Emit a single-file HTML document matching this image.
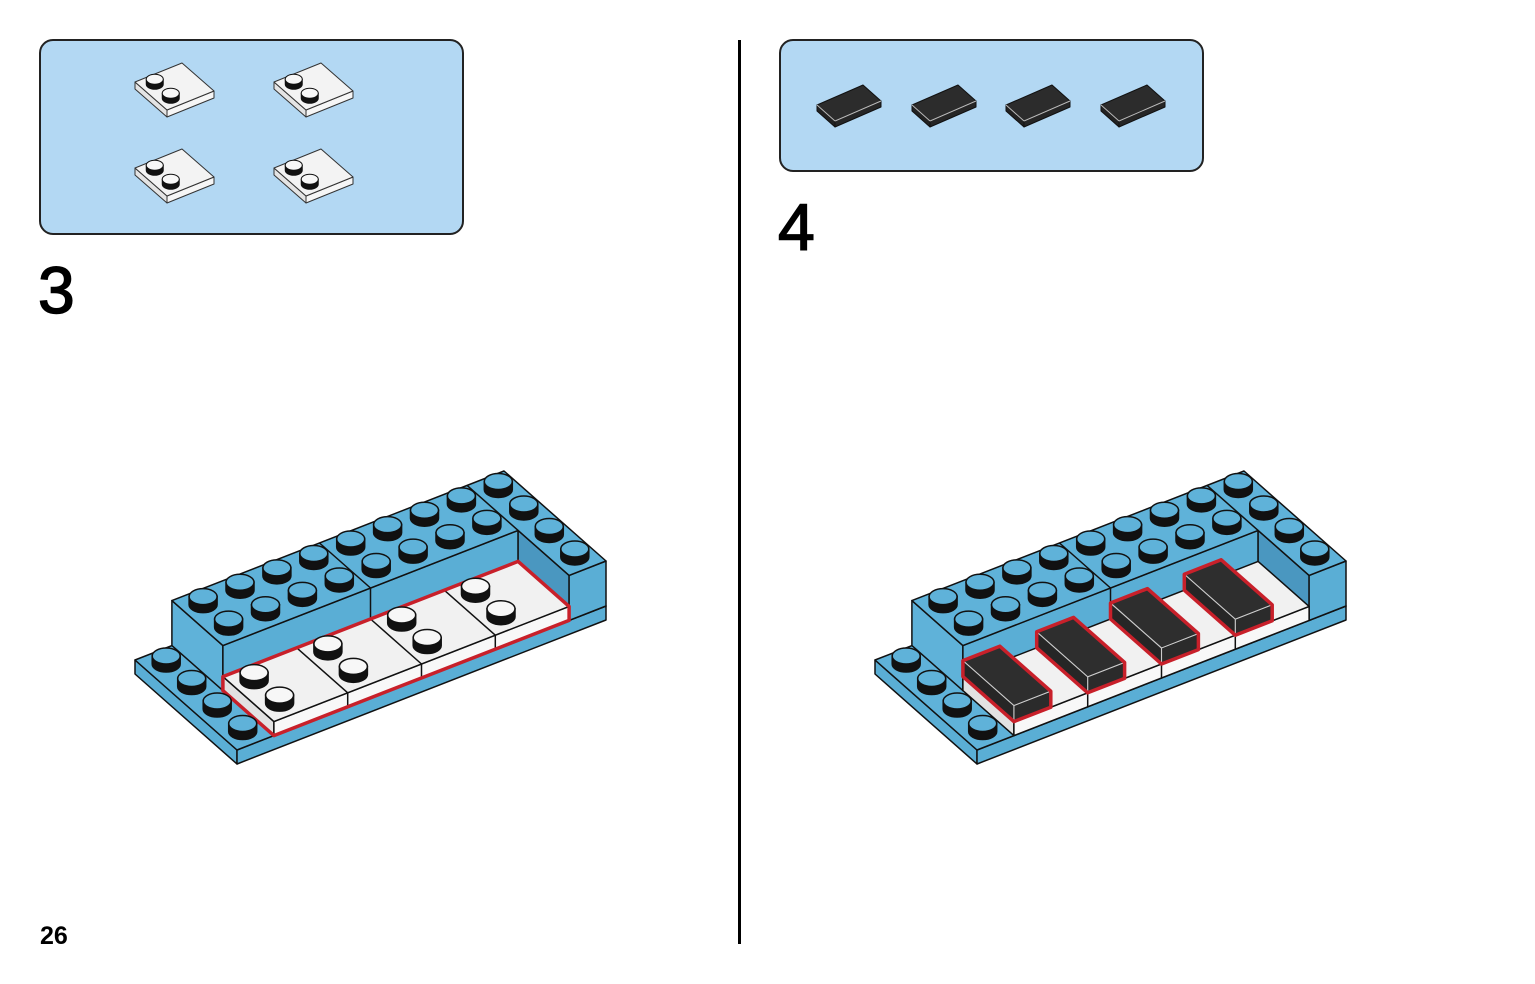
<!DOCTYPE html>
<html><head><meta charset="utf-8">
<style>
html,body{margin:0;padding:0;background:#fff;}
body{width:1535px;height:984px;position:relative;overflow:hidden;font-family:"Liberation Sans",sans-serif;}
.box{position:absolute;background:#b3d8f3;border:2px solid #222;border-radius:14px;box-sizing:border-box;}
.num{position:absolute;font-size:66px;line-height:1;color:#000;-webkit-text-stroke:1.5px #000;}
#pg{position:absolute;left:40px;top:924px;font-size:25px;font-weight:bold;line-height:1;}
#vl{position:absolute;left:738px;top:40px;width:3px;height:904px;background:#000;}
svg{position:absolute;left:0;top:0;}
</style></head><body>
<div class="box" style="left:39px;top:39px;width:425px;height:196px"></div>
<div class="box" style="left:779px;top:39px;width:425px;height:133px"></div>
<div class="num" style="left:38px;top:257px">3</div>
<div class="num" style="left:778px;top:194px">4</div>
<div id="pg">26</div>
<div id="vl"></div>
<svg id="s" width="1535" height="984" viewBox="0 0 1535 984"></svg>
<script>
var out=[];
function pts(a){return a.map(function(p){return p[0].toFixed(1)+','+p[1].toFixed(1)}).join(' ');}
function poly(a,f,s,w){out.push('<polygon points="'+pts(a)+'" fill="'+f+'" stroke="'+(s||'#111')+'" stroke-width="'+(w||1.5)+'" stroke-linejoin="round"/>');}
function line(a,b,s,w){out.push('<line x1="'+a[0].toFixed(1)+'" y1="'+a[1].toFixed(1)+'" x2="'+b[0].toFixed(1)+'" y2="'+b[1].toFixed(1)+'" stroke="'+(s||'#111')+'" stroke-width="'+(w||1.5)+'"/>');}
function stud(c,rx,ry,h,col,sw){
  var x=c[0],y=c[1];
  out.push('<path d="M'+(x-rx)+','+(y-h)+' L'+(x-rx)+','+y+' A'+rx+','+ry+' 0 0 0 '+(x+rx)+','+y+' L'+(x+rx)+','+(y-h)+' Z" fill="#111" stroke="#111" stroke-width="'+sw+'"/>');
  out.push('<ellipse cx="'+x+'" cy="'+(y-h)+'" rx="'+rx+'" ry="'+ry+'" fill="'+col+'" stroke="#111" stroke-width="'+sw+'"/>');
}
var BT='#5fb2d9',BF='#5aaed5',BS='#4a97c0';
function model(ox,oy,step4){
  var X=[36.9,-14.4],Y=[25.5,22.5];
  function p(x,y,z){return [ox+x*X[0]+y*Y[0], oy+x*X[1]+y*Y[1]-z];}
  var H=45,T=14,PT=14,B=16;
  poly([p(0,0,0),p(0,4,0),p(0,4,-PT),p(0,0,-PT)],BF);
  poly([p(0,4,0),p(10,4,0),p(10,4,-PT),p(0,4,-PT)],BF);
  poly([p(0,0,0),p(10,0,0),p(10,4,0),p(0,4,0)],BT);
  poly([p(1,0,0),p(1,2,0),p(1,2,H),p(1,0,H)],BT);
  poly([p(1,2,0),p(9,2,0),p(9,2,H),p(1,2,H)],BF);
  poly([p(9,2,0),p(9,4,0),p(9,4,H),p(9,2,H)],BS);
  poly([p(9,4,0),p(10,4,0),p(10,4,H),p(9,4,H)],BF);
  poly([p(1,0,H),p(10,0,H),p(10,4,H),p(9,4,H),p(9,2,H),p(1,2,H)],BT);
  line(p(5,0,H),p(5,2,H));line(p(5,2,H),p(5,2,0));line(p(9,0,H),p(9,2,H));
  poly([p(1,2,0),p(1,4,0),p(1,4,T),p(1,2,T)],'#e2e2e2');
  poly([p(1,4,0),p(9,4,0),p(9,4,T),p(1,4,T)],'#f8f8f8');
  poly([p(1,2,T),p(9,2,T),p(9,4,T),p(1,4,T)],'#f1f1f1');
  [3,5,7].forEach(function(x){line(p(x,2,T),p(x,4,T));line(p(x,4,T),p(x,4,0));});
  if(!step4){
    poly([p(1,2,T),p(9,2,T),p(9,4,T),p(9,4,0),p(1,4,0),p(1,2,0)],'none','#c8202a',3.5);
    [1,3,5,7].forEach(function(x){stud(p(x+0.5,2.5,T),14,8,8,'#f7f7f7',1.5);stud(p(x+0.5,3.5,T),14,8,8,'#f7f7f7',1.5);});
  } else {
    [7,5,3,1].forEach(function(x){
      var z=T+B;
      poly([p(x,2,T),p(x,4,T),p(x,4,z),p(x,2,z)],'#262626');
      poly([p(x,4,T),p(x+1,4,T),p(x+1,4,z),p(x,4,z)],'#2b2b2b');
      poly([p(x,2,z),p(x+1,2,z),p(x+1,4,z),p(x,4,z)],'#2e2e2e');
      line(p(x,4,z),p(x+1,4,z),'#ccc',1.2);line(p(x,2,z),p(x,4,z),'#ccc',1.2);line(p(x,4,z),p(x,4,T),'#ccc',1.2);
      poly([p(x,2,z),p(x+1,2,z),p(x+1,4,z),p(x+1,4,T),p(x,4,T),p(x,2,T)],'none','#c8202a',3.5);
    });
  }
  [0.5,1.5,2.5,3.5].forEach(function(y){stud(p(0.5,y,0),14,8,8,BT,1.5);});
  var ss=[];
  for(var x=1.5;x<9;x++){ss.push(p(x,0.5,H));ss.push(p(x,1.5,H));}
  [0.5,1.5,2.5,3.5].forEach(function(y){ss.push(p(9.5,y,H));});
  ss.sort(function(a,b){return a[1]-b[1];});
  ss.forEach(function(c){stud(c,14,8,8,BT,1.5);});
}
model(135,660,false);
model(875,660,true);
function wpiece(ox,oy){
  var X=[23.5,-9.5],Y=[16,14],T=7;
  function p(x,y,z){return [ox+x*X[0]+y*Y[0], oy+x*X[1]+y*Y[1]-z];}
  poly([p(0,0,0),p(0,2,0),p(0,2,-T),p(0,0,-T)],'#e4e4e4','#333',1);
  poly([p(0,2,0),p(2,2,0),p(2,2,-T),p(0,2,-T)],'#f6f6f6','#333',1);
  poly([p(0,0,0),p(2,0,0),p(2,2,0),p(0,2,0)],'#f3f3f3','#333',1);
  stud(p(0.5,0.5,0),8.5,5,5,'#f7f7f7',1);
  stud(p(0.5,1.5,0),8.5,5,5,'#f7f7f7',1);
}
[[135,82],[274,82],[135,168],[274,168]].forEach(function(o){wpiece(o[0],o[1]);});
function bpiece(ox,oy){
  var X=[23,-10],Y=[18,16],T=6;
  function p(x,y,z){return [ox+x*X[0]+y*Y[0], oy+x*X[1]+y*Y[1]-z];}
  poly([p(0,0,0),p(0,1,0),p(0,1,-T),p(0,0,-T)],'#222','#111',1);
  poly([p(0,1,0),p(2,1,0),p(2,1,-T),p(0,1,-T)],'#262626','#111',1);
  poly([p(0,0,0),p(2,0,0),p(2,1,0),p(0,1,0)],'#2c2c2c','#111',1);
  line(p(0,1,0),p(2,1,0),'#bbb',1);line(p(0,0,0),p(0,1,0),'#bbb',1);
}
[[817,105],[912,105],[1006,105],[1101,105]].forEach(function(o){bpiece(o[0],o[1]);});
document.getElementById('s').innerHTML=out.join('');
</script>
</body></html>
